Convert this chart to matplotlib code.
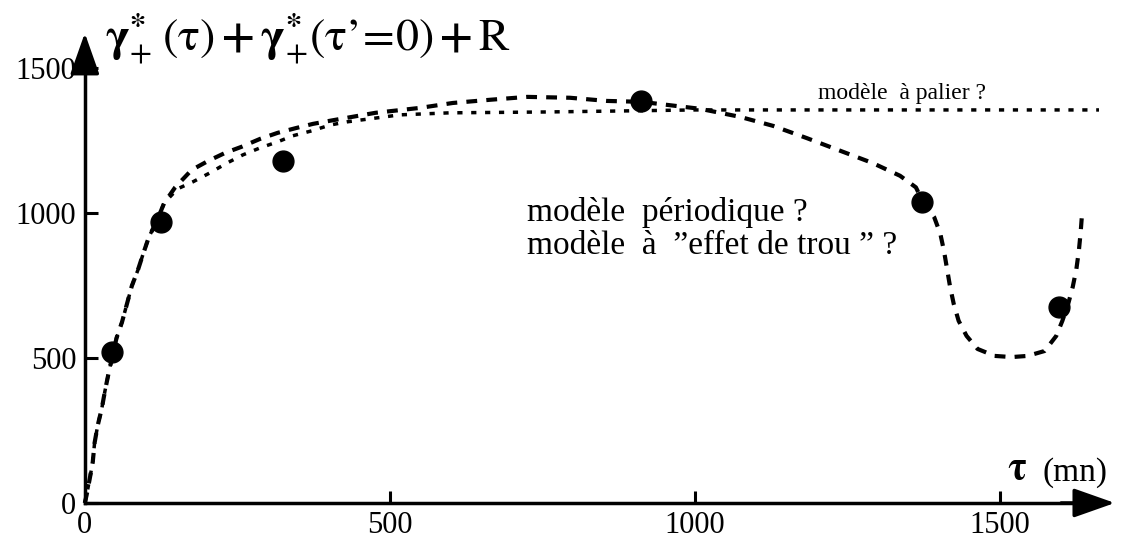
import matplotlib
matplotlib.use("Agg")
import matplotlib.pyplot as plt

plt.rcParams['font.family'] = ['Liberation Serif', 'DejaVu Serif']
plt.rcParams['mathtext.fontset'] = 'stix'

# measured points
pts_x = [44, 125, 325, 912, 1372, 1597]
pts_y = [521, 970, 1179, 1386, 1038, 676]

# "modele periodique" curve
per_x = [0, 3, 8, 13, 16, 21, 28, 33, 39, 52, 61, 69, 77, 87, 95, 105, 118,
         130, 148, 175, 202, 230, 257, 287, 316, 347, 374, 408, 476, 549, 603,
         664, 725, 795, 856, 912, 1008, 1074, 1128, 1183, 1237, 1291, 1336,
         1362,
         1373, 1392, 1402, 1408, 1413, 1418, 1424, 1432, 1445, 1463, 1491,
         1519, 1545, 1573, 1592, 1602, 1612, 1619, 1625, 1629, 1632, 1634]
per_y = [0, 28, 83, 141, 207, 266, 328, 386, 448, 569, 624, 686, 748, 803,
         855, 917, 972, 1034, 1088, 1148, 1179, 1207, 1228, 1255, 1276, 1293,
         1307, 1320, 1345, 1362, 1379, 1390, 1400, 1397, 1386, 1383, 1359,
         1331, 1300, 1258, 1215, 1172, 1128, 1088,
         1040, 985, 928, 869, 807, 745, 686, 628, 576, 531, 507,
         503, 507, 524, 576, 628, 690, 745, 807, 869, 934, 990]

# "modele a palier" curve
pal_x = [0, 3, 8, 13, 16, 21, 28, 33, 39, 52, 61, 69, 77, 87, 95, 105, 118,
         130, 152, 177, 205, 233, 259, 287, 316, 341, 372, 402, 430, 516, 598,
         757, 898, 1000, 1200, 1400, 1662]
pal_y = [0, 28, 83, 141, 207, 266, 328, 386, 448, 569, 624, 686, 748, 803,
         855, 917, 972, 1034, 1083, 1107, 1138, 1172, 1200, 1224, 1245, 1266,
         1283, 1303, 1314, 1338, 1345, 1348, 1352, 1355, 1355, 1355, 1355]

ticks = [0, 500, 1000, 1500]

fig = plt.figure(figsize=(11.24, 5.43), dpi=100)
ax = fig.add_axes([0, 0, 1, 1])
ax.set_xlim(-139, 1703)
ax.set_ylim(-138, 1734)

for s in ['top', 'right']:
    ax.spines[s].set_visible(False)
ax.spines['left'].set_position(('data', 0))
ax.spines['bottom'].set_position(('data', 0))
ax.spines['left'].set_bounds(0, 1560)
ax.spines['bottom'].set_bounds(0, 1640)
ax.spines['left'].set_linewidth(2.5)
ax.spines['bottom'].set_linewidth(2.5)

ax.set_xticks(ticks)
ax.set_yticks(ticks)
ax.tick_params(direction='in', length=9, width=2.2, labelsize=22, pad=6)

# arrow heads
ax.annotate('', xy=(0, 1620), xytext=(0, 1500),
            arrowprops=dict(arrowstyle='-|>,head_length=0.85,head_width=0.3',
                            lw=2.5, color='black', mutation_scale=30,
                            shrinkA=0, shrinkB=0))
ax.annotate('', xy=(1688, 0), xytext=(1600, 0),
            arrowprops=dict(arrowstyle='-|>,head_length=0.85,head_width=0.3',
                            lw=2.5, color='black', mutation_scale=30,
                            shrinkA=0, shrinkB=0))

ax.plot(pal_x, pal_y, color='black', lw=2.5, dashes=(1.5, 2.5))
ax.plot(per_x, per_y, color='black', lw=3, dashes=(2.6, 2.2))
ax.plot(pts_x, pts_y, 'o', color='black', ms=15)

ax.text(33, 1603,
        r"$\mathbf{\gamma}^{\mathbf{*}}_{+}\;(\mathrm{\tau})\,\mathbf{+}\,"
        r"\mathbf{\gamma}^{\mathbf{*}}_{+}(\mathrm{\tau}\mathrm{’}\!=\!0)\,\mathbf{+}\,\mathrm{R}$",
        fontsize=33, va='center', ha='left')
ax.text(1202, 1410, "modèle  à palier ?", fontsize=17, va='center')
ax.text(725, 1003, "modèle  périodique ?", fontsize=24, va='center')
ax.text(725, 888, "modèle  à  ”effet de trou ” ?", fontsize=24, va='center')
ax.text(1511, 114, r"$\mathbf{\tau}$", fontsize=28, va='center')
ax.text(1570, 106, "(mn)", fontsize=24, va='center')

fig.savefig("out.png", dpi=100)
